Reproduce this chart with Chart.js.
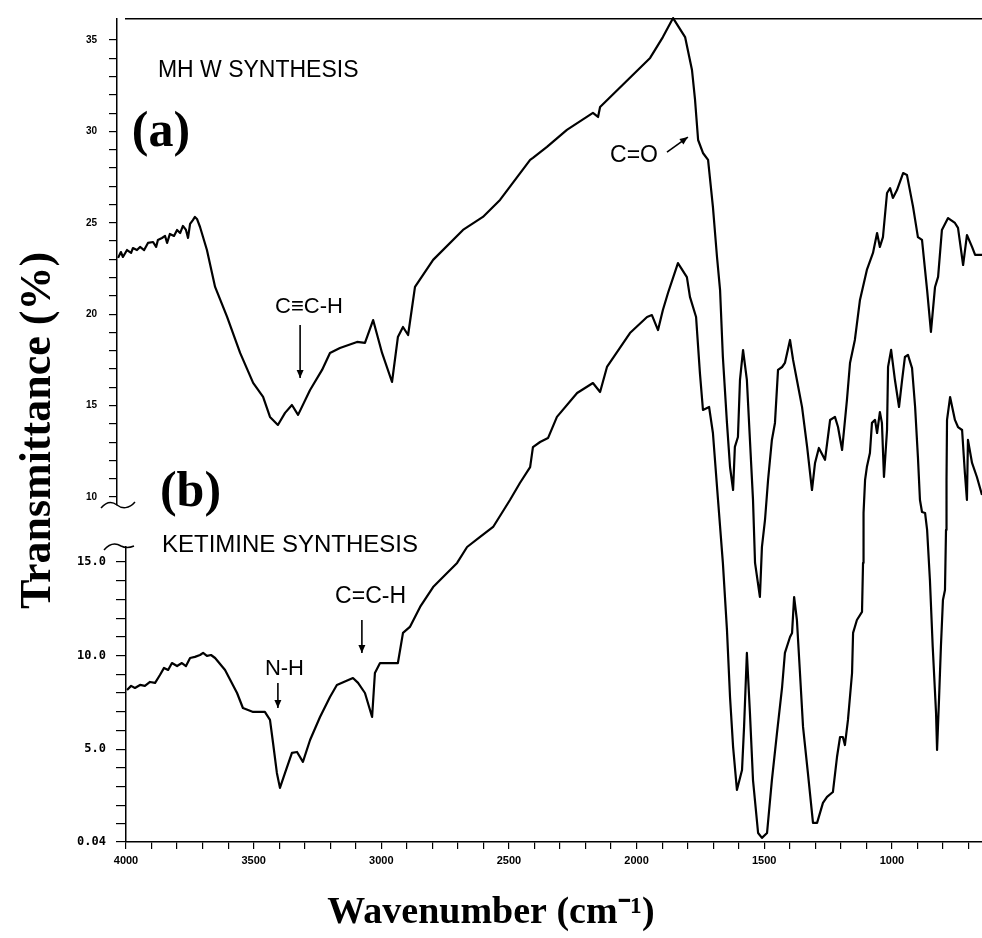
<!DOCTYPE html>
<html><head><meta charset="utf-8">
<script src="https://cdn.jsdelivr.net/npm/chart.js@4.4.1/dist/chart.umd.min.js"></script>
<style>html,body{margin:0;padding:0;background:#fff;}canvas{display:block;}</style>
</head><body>
<canvas id="c" width="982" height="938"></canvas>
<script>
// ---- (a) MH W synthesis : wavenumber (cm-1) and transmittance (%) ----
const wnA = [4031,4020,4012,3996,3980,3973,3957,3945,3929,3914,
  3894,3882,3875,3859,3847,3839,3828,3812,3800,3788,
  3777,3765,3757,3749,3738,3730,3722,3710,
  3683,3651,3604,3553,3502,3463,3436,
  3405,3377,3350,3326,3279,3232,3201,3162,3095,3064,
  3032,2997,2958,2935,2915,2895,2868,2797,2680,2602,
  2535,2417,2406,2351,2273,2171,2151,2143,1947,1897,
  1857,1810,1783,1771,1759,1740,1720,1701,1685,1673,
  1662,1646,1634,1622,1615,1603,1595,1583,1568,1556,
  1544,1536,1517,1509,1497,1485,1470,1458,1446,1430,
  1419,1399,1387,1372,1352,1332,1313,1301,1286,1262,
  1242,1223,1211,1195,1176,1164,1145,1125,1098,1074,
  1058,1047,1035,1019,1007,996,980,956,941,917,
  898,882,862,847,831,819,804,780,753,741,
  721,706,686,674,647];
const tA = [23.08,23.40,23.13,23.51,23.35,23.62,23.51,23.68,23.51,23.90,
  23.95,23.68,24.06,24.17,24.28,23.90,24.39,24.28,24.61,24.44,
  24.83,24.61,24.17,24.94,25.15,25.32,25.21,24.77,
  23.51,21.49,19.85,17.88,16.24,15.47,14.38,
  13.94,14.60,15.03,14.49,15.85,16.95,17.88,18.15,18.48,18.43,
  19.68,17.88,16.29,18.75,19.30,18.86,21.49,22.97,24.61,25.32,
  26.25,28.44,28.55,29.15,30.08,31.01,30.79,31.34,34.02,35.16,
  36.20,35.16,33.36,31.72,29.53,28.82,28.44,25.87,23.13,21.32,
  17.66,14.05,11.64,10.38,12.74,13.28,16.40,18.04,16.40,13.12,
  9.84,6.39,4.53,7.27,8.74,10.93,13.12,14.05,16.95,17.11,
  17.33,18.59,17.50,16.40,14.93,12.74,10.38,11.86,12.68,12.03,
  14.21,14.38,13.83,12.57,15.31,17.33,18.59,20.78,22.42,23.35,
  24.44,23.68,24.22,26.63,26.90,26.36,26.79,27.72,27.62,25.87,
  24.22,24.06,21.32,19.03,21.49,22.04,24.61,25.26,24.99,24.72,
  22.69,24.33,23.68,23.24,23.24];

// ---- (b) Ketimine synthesis ----
const wnB = [3996,3980,3965,3945,3926,3906,3886,3867,3851,3835,
  3820,3800,3781,3765,3749,3730,3710,3698,3683,3667,
  3651,3612,3565,3542,3502,3456,3436,
  3424,3409,3397,3377,3350,3330,3307,3279,3240,3201,
  3174,3111,3091,3064,3036,3025,3005,2966,2935,2915,
  2888,2848,2797,2758,2703,2664,2613,2562,2496,2457,
  2417,2406,2378,2347,2312,2233,2171,2143,2116,2026,
  1959,1940,1916,1897,1877,1838,1803,1791,1767,1752,
  1740,1716,1701,1681,1662,1646,1634,1622,1607,1587,
  1579,1568,1556,1544,1524,1509,1489,1470,1450,1430,
  1419,1399,1391,1383,1372,1360,1348,1329,1309,1293,
  1270,1254,1231,1215,1203,1192,1184,1172,1156,1152,
  1137,1117,1113,1111,1105,1098,1086,1078,1066,1058,
  1047,1039,1031,1019,1015,1003,988,972,960,949,
  937,921,909,898,890,882,870,862,851,840,
  827,823,815,808,800,792,788,786,784,772,
  753,741,725,714,706,702,686,667,647];
const tB = [8.16,8.38,8.27,8.43,8.38,8.59,8.54,8.96,9.34,9.23,
  9.60,9.44,9.60,9.44,9.87,9.93,10.03,10.14,9.98,10.03,
  9.87,9.23,8.00,7.20,6.99,6.99,6.56,
  5.33,3.73,2.93,3.73,4.80,4.85,4.32,5.49,6.72,7.79,
  8.43,8.80,8.54,8.00,6.72,9.07,9.60,9.60,9.60,11.21,
  11.53,12.60,13.66,14.20,14.95,15.80,16.34,16.87,18.31,19.22,
  20.07,21.14,21.41,21.62,22.75,24.03,24.56,24.08,25.42,27.23,
  28.09,28.19,27.39,28.46,29.37,30.97,30.22,29.16,28.09,25.10,
  23.12,23.28,21.89,18.31,14.95,11.37,7.79,5.12,2.82,3.89,
  6.19,10.14,6.93,3.35,0.52,0.26,0.52,3.35,5.87,8.32,
  10.14,10.99,11.21,13.13,11.90,9.07,6.19,3.73,1.06,1.06,
  2.13,2.45,2.71,4.58,5.65,5.65,5.22,6.56,9.07,11.21,
  11.90,12.33,14.95,17.62,19.38,20.07,20.82,22.43,22.59,21.89,
  23.01,22.43,19.54,22.05,25.42,26.33,24.72,23.28,24.72,25.95,
  26.06,25.36,23.28,20.61,18.31,17.67,17.62,16.71,14.04,10.46,
  6.93,4.96,7.79,10.46,12.97,13.50,16.71,19.38,22.59,23.81,
  22.59,22.21,22.05,19.75,18.31,21.52,20.29,19.54,18.58];

// ---- tick labels ----
const xTickLabels = [4000,3500,3000,2500,2000,1500,1000];
const yUpperTickLabels = [10,15,20,25,30,35];
const yLowerTickValues = [0.04,5,10,15];
const yLowerTickLabels = ['0.04','5.0','10.0','15.0'];

// ---- annotation texts (placed in data units of the given axis) ----
const notes = [
  {text:'MH W SYNTHESIS', wn:3875, v:32.98, axis:'ya', font:'23px "Liberation Sans", Arial, sans-serif', base:'alphabetic'},
  {text:'(a)', wn:3977, v:29.9, axis:'ya', font:'bold 50px "Liberation Serif", "Times New Roman", serif', base:'middle'},
  {text:'C\u2261C-H', wn:3416, v:20.07, axis:'ya', font:'22px "Liberation Sans", Arial, sans-serif', base:'alphabetic'},
  {text:'C=O', wn:2104, v:28.33, axis:'ya', font:'23px "Liberation Sans", Arial, sans-serif', base:'alphabetic'},
  {text:'(b)', wn:3867, v:18.69, axis:'yb', font:'bold 50px "Liberation Serif", "Times New Roman", serif', base:'middle'},
  {text:'KETIMINE SYNTHESIS', wn:3859, v:15.53, axis:'yb', font:'24px "Liberation Sans", Arial, sans-serif', base:'alphabetic'},
  {text:'C=C-H', wn:3181, v:12.81, axis:'yb', font:'23px "Liberation Sans", Arial, sans-serif', base:'alphabetic'},
  {text:'N-H', wn:3456, v:8.96, axis:'yb', font:'22px "Liberation Sans", Arial, sans-serif', base:'alphabetic'}
];
const arrows = [
  {axis:'ya', from:[3318,19.41], to:[3318,16.51]},
  {axis:'ya', from:[1881,28.87], to:[1799,29.69]},
  {axis:'yb', from:[3076,11.90], to:[3076,10.14]},
  {axis:'yb', from:[3405,8.54], to:[3405,7.20]}
];

const shiftPlugin = {
  id:'shiftUpperAxis',
  afterLayout(chart){ const s = chart.scales.ya; s.left -= 9; s.right -= 9; }
};

const notePlugin = {
  id:'notes',
  afterDatasetsDraw(chart){
    const ctx = chart.ctx, xs = chart.scales.x;
    ctx.save();
    ctx.fillStyle = '#000'; ctx.strokeStyle = '#000';
    notes.forEach(n => {
      const ys = chart.scales[n.axis];
      ctx.font = n.font; ctx.textAlign = 'left'; ctx.textBaseline = n.base;
      ctx.fillText(n.text, xs.getPixelForValue(n.wn), ys.getPixelForValue(n.v));
    });
    ctx.lineWidth = 1.6;
    arrows.forEach(a => {
      const ys = chart.scales[a.axis];
      const x1 = xs.getPixelForValue(a.from[0]), y1 = ys.getPixelForValue(a.from[1]);
      const x2 = xs.getPixelForValue(a.to[0]), y2 = ys.getPixelForValue(a.to[1]);
      ctx.beginPath(); ctx.moveTo(x1,y1); ctx.lineTo(x2,y2); ctx.stroke();
      const ang = Math.atan2(y2-y1, x2-x1), L = 8, W = 3.5;
      ctx.beginPath();
      ctx.moveTo(x2,y2);
      ctx.lineTo(x2 - L*Math.cos(ang) + W*Math.sin(ang), y2 - L*Math.sin(ang) - W*Math.cos(ang));
      ctx.lineTo(x2 - L*Math.cos(ang) - W*Math.sin(ang), y2 - L*Math.sin(ang) + W*Math.cos(ang));
      ctx.closePath(); ctx.fill();
    });
    // axis break marks
    const ya = chart.scales.ya, yb = chart.scales.yb;
    ctx.lineWidth = 1.5;
    let bx = ya.right, by = ya.bottom;
    ctx.beginPath();
    ctx.moveTo(bx-16, by+3);
    ctx.bezierCurveTo(bx-10, by-4, bx-5, by-4, bx, by);
    ctx.bezierCurveTo(bx+5, by+4, bx+12, by+4, bx+18, by-3);
    ctx.stroke();
    bx = yb.right; by = yb.top;
    ctx.beginPath();
    ctx.moveTo(bx-22, by+3);
    ctx.bezierCurveTo(bx-16, by-4, bx-10, by-4, bx-5, by-1);
    ctx.bezierCurveTo(bx-1, by+1, bx+3, by+1, bx+8, by-1);
    ctx.stroke();
    ctx.restore();
  }
};

const gridTicks = (len) => ({display:true, drawOnChartArea:false, drawTicks:true, tickLength:len, color:'#000', lineWidth:1.2});

new Chart(document.getElementById('c'), {
  type:'line',
  data:{datasets:[
    {label:'MH W synthesis', data: wnA.map((x,i)=>({x:x, y:tA[i]})), xAxisID:'x', yAxisID:'ya',
     borderColor:'#000', borderWidth:2.2, pointRadius:0, tension:0, fill:false, clip:false, borderJoinStyle:'round'},
    {label:'Ketimine synthesis', data: wnB.map((x,i)=>({x:x, y:tB[i]})), xAxisID:'x', yAxisID:'yb',
     borderColor:'#000', borderWidth:2.2, pointRadius:0, tension:0, fill:false, clip:false, borderJoinStyle:'round'}
  ]},
  options:{
    responsive:false, animation:false, devicePixelRatio:1,
    layout:{padding:0},
    plugins:{
      legend:{display:false}, tooltip:{enabled:false},
      title:{display:true, position:'left', fullSize:false, text:'Transmittance (%)', color:'#000',
        font:{family:'"Liberation Serif", "Times New Roman", serif', size:44, weight:'bold', lineHeight:1.2},
        padding:{top:12, bottom:12}},
      subtitle:{display:true, position:'bottom', text:'Wavenumber (cm\u207B\u00B9)', color:'#000',
        font:{family:'"Liberation Serif", "Times New Roman", serif', size:38, weight:'bold', lineHeight:1.2},
        padding:{top:4, bottom:2}}
    },
    scales:{
      x:{type:'linear', position:'bottom', reverse:true, min:647, max:4000,
        border:{display:true, color:'#000', width:1.5},
        grid:gridTicks(7),
        afterBuildTicks:(s)=>{ const t=[]; for(let v=700; v<=4000; v+=100) t.push({value:v}); s.ticks=t; },
        ticks:{autoSkip:false, maxRotation:0, padding:5, color:'#000',
          font:{family:'"Liberation Sans", Arial, sans-serif', size:11, weight:'bold'},
          callback:(v)=> xTickLabels.includes(v) ? String(v) : ''},
        afterFit:(s)=>{ s.height = 44.4; }
      },
      x2:{type:'linear', position:'top', reverse:true, min:647, max:4000,
        border:{display:true, color:'#000', width:1.5},
        grid:{display:false}, ticks:{display:false},
        afterFit:(s)=>{ s.height = 19; }
      },
      ya:{type:'linear', position:'left', stack:'ys', stackWeight:486, weight:3, min:9.56, max:36.15,
        border:{display:true, color:'#000', width:1.5},
        grid:gridTicks(8),
        afterBuildTicks:(s)=>{ const t=[]; for(let v=10; v<=35; v++) t.push({value:v}); s.ticks=t; },
        ticks:{autoSkip:false, padding:12, color:'#000',
          font:{family:'"Liberation Sans", Arial, sans-serif', size:10, weight:'bold'},
          callback:(v)=> yUpperTickLabels.includes(v) ? String(v) : ''},
        afterFit:(s)=>{ s.width = 49.2; }
      },
      ygap:{type:'linear', position:'left', stack:'ys', stackWeight:42, weight:2, min:0, max:1,
        border:{display:false}, grid:{display:false}, ticks:{display:false},
        afterFit:(s)=>{ s.width = 49.2; }
      },
      yb:{type:'linear', position:'left', stack:'ys', stackWeight:295, weight:1, min:0.04, max:15.8,
        border:{display:true, color:'#000', width:1.5},
        grid:gridTicks(10),
        afterBuildTicks:(s)=>{ const t=[{value:0.04}]; for(let v=1; v<=15; v++) t.push({value:v}); s.ticks=t; },
        ticks:{autoSkip:false, padding:10, color:'#000',
          font:{family:'"DejaVu Sans Mono", monospace', size:12, weight:'bold'},
          callback:(v)=>{ const i = yLowerTickValues.indexOf(v); return i>=0 ? yLowerTickLabels[i] : ''; }},
        afterFit:(s)=>{ s.width = 49.2; }
      }
    }
  },
  plugins:[shiftPlugin, notePlugin]
});
</script>
</body></html>
